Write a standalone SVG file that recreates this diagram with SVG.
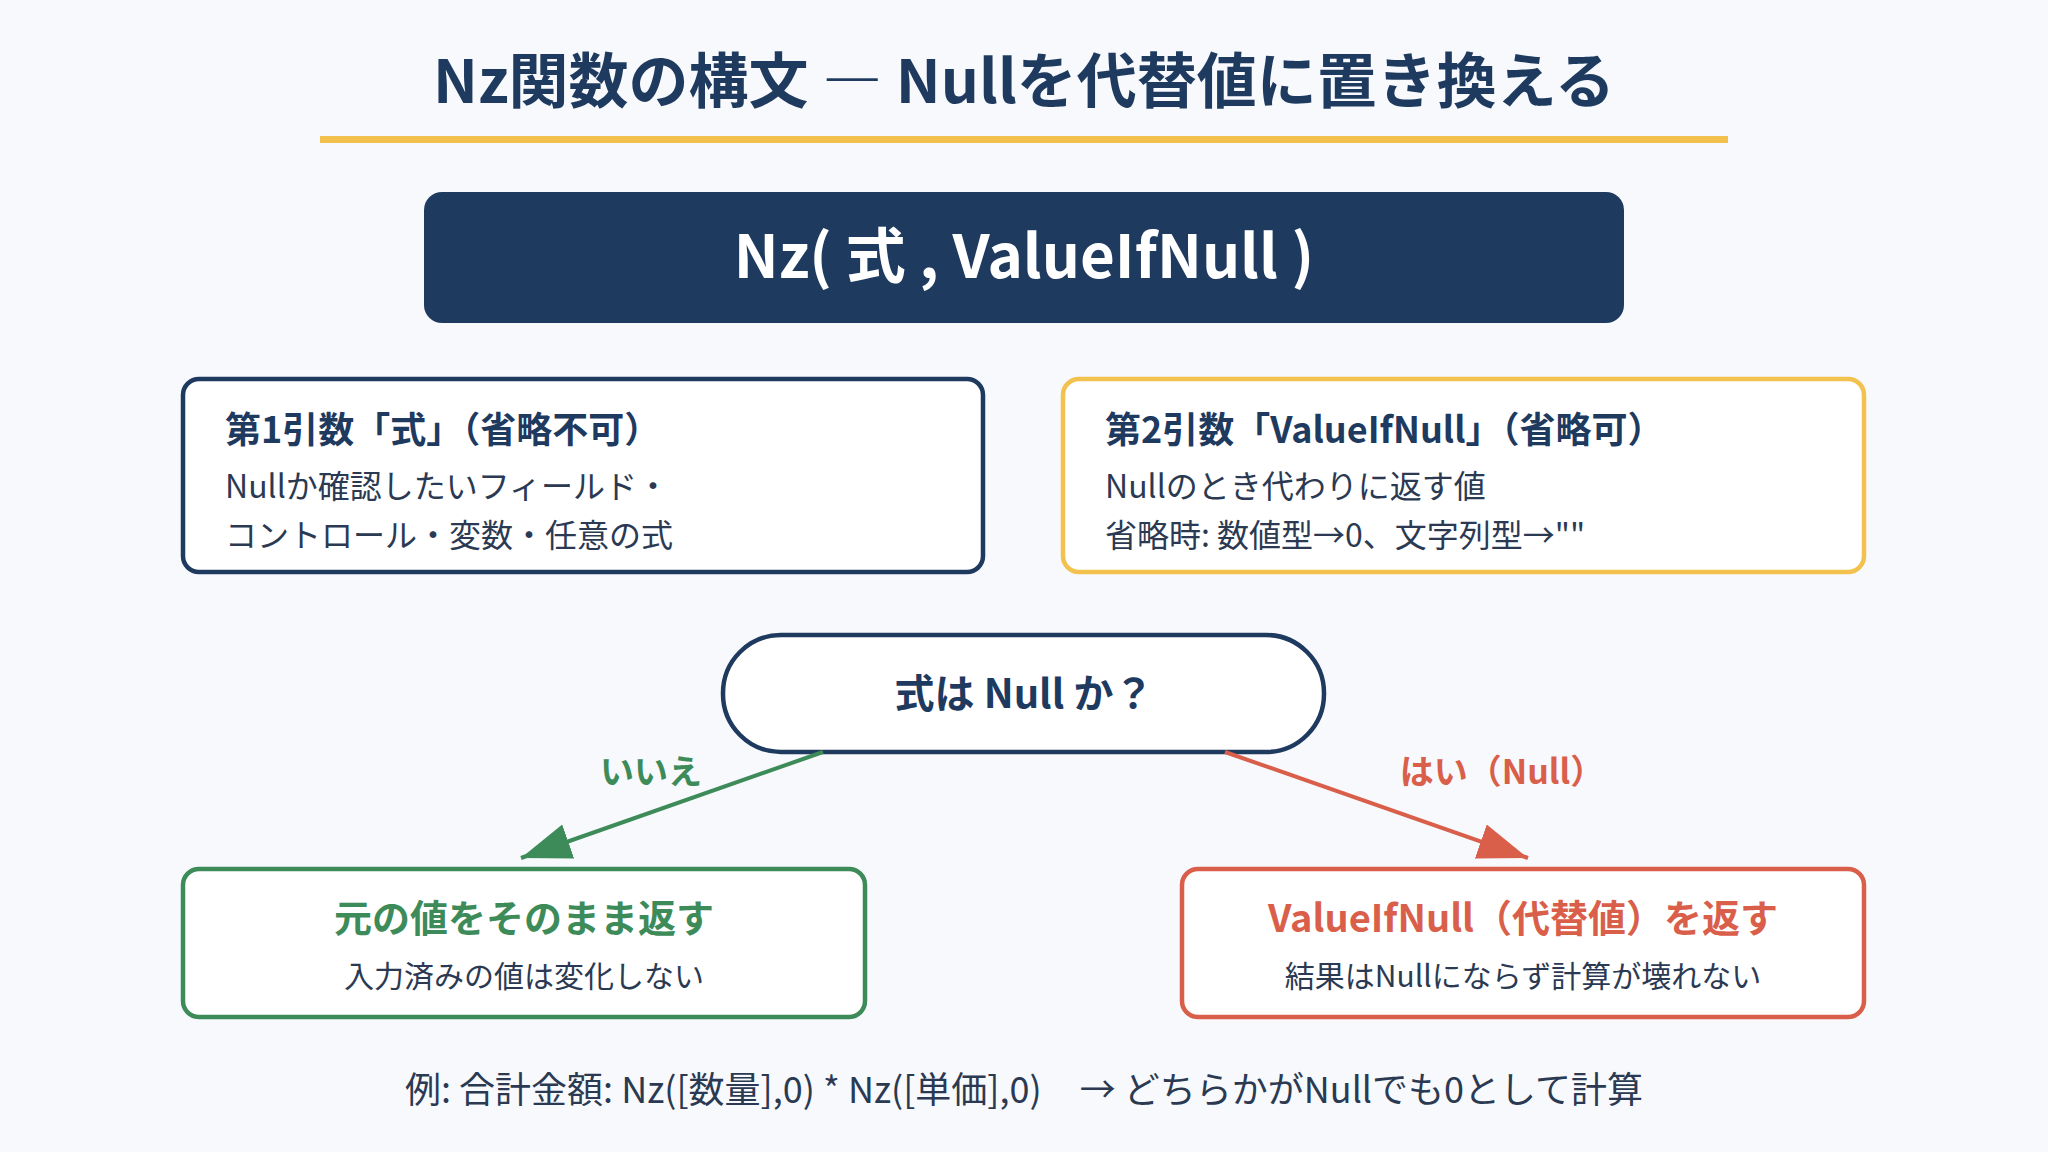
<svg xmlns="http://www.w3.org/2000/svg" width="2048" height="1152" viewBox="0 0 2048 1152">
<defs>
<style>
text{font-family:"Noto Sans CJK JP","Noto Sans",sans-serif}
.title{font-size:60px;font-weight:700;fill:#1f3a5f}
.box{fill:#ffffff;stroke-width:4.5}
.h{font-size:36px;font-weight:700;fill:#1f3a5f}
.b{font-size:32px;font-weight:400;fill:#2b3a52}
.lbl{font-size:34px;font-weight:700}
.sub{font-size:30px;font-weight:400;fill:#2b3a52}
</style>
<marker id="ag" markerUnits="userSpaceOnUse" markerWidth="52" markerHeight="40" refX="50" refY="20" orient="auto"><path d="M0,2 L50,20 L0,38 Z" fill="#3e8b5a"/></marker>
<marker id="ar" markerUnits="userSpaceOnUse" markerWidth="52" markerHeight="40" refX="50" refY="20" orient="auto"><path d="M0,2 L50,20 L0,38 Z" fill="#d95f4b"/></marker>
</defs>
<rect width="2048" height="1152" fill="#f7f9fc"/>
<g id="title">
<text class="title" x="1024" y="103" text-anchor="middle">Nz関数の構文 ― Nullを代替値に置き換える</text>
<rect x="320" y="136" width="1408" height="7" fill="#f2c14e"/>
</g>
<g id="syntax">
<rect x="424" y="192" width="1200" height="131" rx="18" fill="#1f3a5f"/>
<text x="1024" y="278" text-anchor="middle" font-size="60" font-weight="700" fill="#ffffff">Nz( 式 , ValueIfNull )</text>
</g>
<g id="arg1">
<rect class="box" x="183" y="379" width="800" height="193" rx="16" stroke="#1f3a5f"/>
<text class="h" x="225" y="443">第1引数「式」（省略不可）</text>
<text class="b" x="225" y="498">Nullか確認したいフィールド・</text>
<text class="b" x="225" y="547">コントロール・変数・任意の式</text>
</g>
<g id="arg2">
<rect class="box" x="1063" y="379" width="801" height="193" rx="16" stroke="#f2c14e" stroke-width="5"/>
<text class="h" x="1105" y="443">第2引数「ValueIfNull」（省略可）</text>
<text class="b" x="1105" y="498">Nullのとき代わりに返す値</text>
<text class="b" x="1105" y="547">省略時: 数値型→0、文字列型→""</text>
</g>
<g id="decision">
<rect class="box" x="723" y="635" width="601" height="117" rx="58" stroke="#1f3a5f"/>
<text x="1024" y="708" text-anchor="middle" font-size="40" font-weight="700" fill="#1f3a5f">式は Null か？</text>
</g>
<g id="connectors">
<line x1="823" y1="752" x2="521" y2="858" stroke="#3e8b5a" stroke-width="4" marker-end="url(#ag)"/>
<line x1="1225" y1="752" x2="1528" y2="858" stroke="#d95f4b" stroke-width="4" marker-end="url(#ar)"/>
<text class="lbl" x="651" y="784" text-anchor="middle" fill="#3e8b5a">いいえ</text>
<text class="lbl" x="1502" y="784" text-anchor="middle" fill="#d95f4b">はい（Null）</text>
</g>
<g id="no">
<rect class="box" x="183" y="869" width="682" height="148" rx="16" stroke="#3e8b5a"/>
<text x="524" y="932" text-anchor="middle" font-size="38" font-weight="700" fill="#3e8b5a">元の値をそのまま返す</text>
<text class="sub" x="524" y="987" text-anchor="middle">入力済みの値は変化しない</text>
</g>
<g id="yes">
<rect class="box" x="1182" y="869" width="682" height="148" rx="16" stroke="#d95f4b"/>
<text x="1523" y="932" text-anchor="middle" font-size="38" font-weight="700" fill="#d95f4b">ValueIfNull（代替値）を返す</text>
<text class="sub" x="1523" y="987" text-anchor="middle">結果はNullにならず計算が壊れない</text>
</g>
<g id="example">
<text x="1024" y="1103" text-anchor="middle" font-size="36" fill="#2b3a52">例: 合計金額: Nz([数量],0) * Nz([単価],0)<tspan dx="38">→ どちらかがNullでも0として計算</tspan></text>
</g>
</svg>
